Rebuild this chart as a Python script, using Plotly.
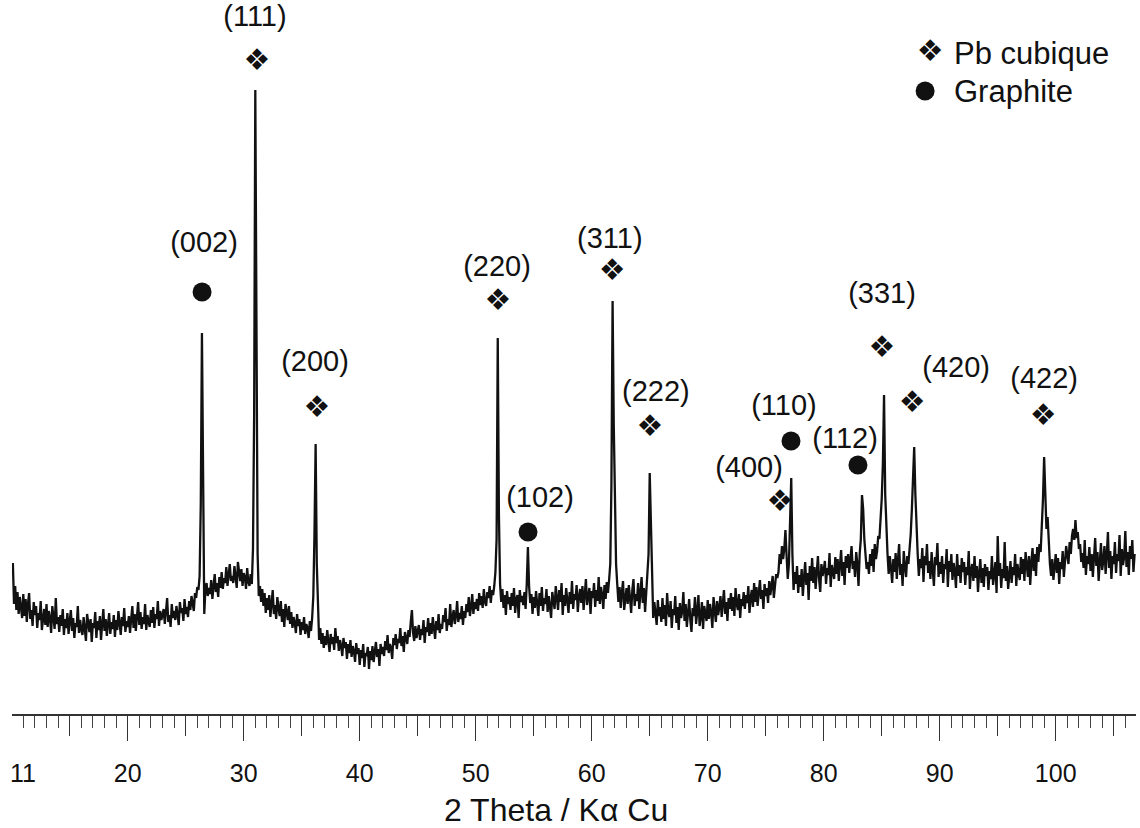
import plotly.graph_objects as go

# ---------------- data ----------------
# Diffractogram intensity (arbitrary units), one row per degree of 2-theta,
# row k holds the points 10.1+k, 10.2+k, ... 11.0+k  (step 0.1 deg)
intensity_rows = [
    [151, 110, 128, 104, 122, 100, 117, 109, 96, 120],   # 10.1-11.0
    [98, 115, 92, 110, 121, 95, 104, 88, 112, 99],
    [108, 86, 101, 94, 113, 84, 99, 105, 89, 110],
    [87, 103, 96, 81, 108, 92, 85, 116, 90, 97],
    [82, 99, 88, 105, 79, 95, 86, 101, 80, 93],
    [104, 83, 96, 76, 91, 87, 108, 81, 94, 84],          # 15.1-16.0
    [79, 97, 85, 73, 100, 88, 82, 95, 72, 91],
    [86, 102, 76, 93, 84, 98, 74, 90, 105, 83],
    [95, 78, 89, 101, 80, 92, 85, 99, 77, 94],
    [84, 103, 91, 79, 97, 88, 106, 82, 93, 87],
    [98, 81, 95, 108, 86, 100, 83, 94, 112, 89],         # 20.1-21.0
    [102, 85, 97, 90, 110, 84, 99, 92, 87, 104],
    [91, 107, 86, 100, 95, 113, 88, 103, 94, 99],
    [105, 90, 101, 116, 92, 99, 87, 110, 96, 103],
    [94, 108, 99, 89, 112, 101, 106, 93, 115, 100],
    [107, 97, 113, 104, 118, 110, 103, 121, 116, 127],   # 25.1-26.0
    [124, 138, 210, 381, 180, 100, 125, 131, 118, 126],
    [120, 134, 115, 128, 140, 122, 131, 117, 137, 126],
    [142, 125, 136, 131, 147, 128, 139, 150, 133, 138],
    [131, 148, 137, 126, 152, 140, 133, 145, 128, 141],
    [137, 125, 146, 132, 128, 140, 130, 165, 300, 624],  # 30.1-31.0
    [330, 160, 118, 128, 112, 125, 108, 121, 101, 116],
    [104, 119, 97, 112, 124, 100, 109, 95, 117, 106],
    [98, 113, 92, 105, 87, 110, 99, 94, 108, 90],
    [102, 86, 97, 91, 81, 100, 88, 95, 79, 92],
    [84, 97, 80, 90, 86, 76, 93, 83, 96, 118],           # 35.1-36.0
    [180, 270, 150, 95, 74, 86, 70, 81, 66, 78],
    [69, 84, 73, 62, 80, 70, 77, 64, 86, 71],
    [78, 63, 74, 68, 58, 76, 66, 72, 55, 70],
    [61, 74, 57, 68, 63, 52, 71, 60, 66, 49],
    [64, 56, 70, 47, 61, 58, 67, 45, 63, 54],            # 40.1-41.0
    [68, 52, 62, 72, 57, 65, 48, 70, 60, 67],
    [58, 73, 64, 79, 61, 70, 66, 55, 76, 69],
    [80, 65, 75, 71, 86, 68, 78, 62, 82, 74],
    [70, 84, 77, 92, 104, 81, 73, 88, 76, 83],
    [89, 74, 85, 79, 94, 71, 87, 82, 96, 78],            # 45.1-46.0
    [91, 80, 97, 86, 75, 93, 84, 100, 81, 90],
    [85, 99, 92, 106, 83, 95, 89, 110, 87, 97],
    [104, 90, 98, 113, 92, 101, 95, 108, 89, 103],
    [96, 110, 102, 117, 98, 107, 120, 100, 112, 105],
    [115, 103, 121, 109, 118, 106, 125, 112, 108, 122],  # 50.1-51.0
    [116, 128, 111, 124, 119, 128, 142, 175, 376, 200],
    [130, 112, 125, 106, 119, 99, 123, 110, 117, 104],
    [121, 108, 126, 101, 115, 119, 96, 124, 112, 118],
    [109, 122, 105, 130, 167, 128, 111, 120, 100, 117],
    [106, 123, 112, 98, 121, 108, 127, 103, 116, 110],   # 55.1-56.0
    [125, 102, 118, 109, 96, 122, 113, 105, 128, 111],
    [104, 124, 112, 131, 99, 119, 108, 126, 115, 101],
    [122, 110, 133, 105, 120, 114, 129, 102, 117, 125],
    [111, 128, 104, 121, 135, 109, 118, 126, 100, 123],
    [116, 131, 107, 124, 113, 137, 110, 127, 119, 105],  # 60.1-61.0
    [129, 115, 132, 121, 134, 150, 230, 413, 290, 200],
    [150, 130, 112, 127, 106, 122, 133, 104, 119, 126],
    [110, 129, 116, 101, 124, 135, 108, 120, 113, 131],
    [105, 122, 137, 111, 126, 102, 119, 132, 160, 241],
    [180, 118, 96, 112, 101, 89, 114, 98, 107, 92],      # 65.1-66.0
    [116, 95, 109, 88, 121, 102, 97, 113, 86, 105],
    [99, 118, 91, 107, 84, 111, 96, 103, 122, 93],
    [110, 87, 101, 115, 94, 82, 106, 98, 117, 90],
    [103, 119, 88, 97, 112, 85, 108, 100, 93, 114],
    [95, 110, 101, 86, 117, 104, 92, 113, 99, 107],      # 70.1-71.0
    [118, 97, 109, 124, 100, 112, 93, 116, 105, 121],
    [103, 117, 98, 126, 110, 104, 120, 96, 115, 108],
    [122, 105, 119, 111, 128, 101, 116, 124, 107, 131],
    [112, 127, 108, 120, 134, 115, 124, 105, 130, 118],
    [126, 111, 133, 119, 128, 138, 116, 130, 140, 136],  # 75.1-76.0
    [142, 160, 150, 168, 155, 165, 184, 158, 135, 150],
    [190, 236, 160, 124, 142, 130, 148, 121, 139, 127],
    [145, 118, 136, 152, 129, 141, 114, 148, 133, 156],
    [131, 147, 125, 140, 158, 135, 122, 150, 138, 144],
    [153, 130, 146, 139, 161, 127, 149, 142, 135, 157],  # 80.1-81.0
    [140, 155, 133, 149, 164, 138, 152, 129, 158, 146],
    [160, 141, 155, 168, 145, 153, 137, 162, 150, 128],
    [160, 175, 219, 205, 175, 158, 145, 152, 140, 160],
    [148, 165, 142, 170, 155, 163, 178, 175, 195, 215],
    [250, 319, 220, 185, 160, 140, 158, 146, 131, 155],  # 85.1-86.0
    [142, 161, 135, 154, 170, 139, 150, 128, 163, 147],
    [137, 158, 150, 165, 180, 205, 240, 267, 220, 180],
    [160, 138, 155, 146, 166, 132, 158, 149, 170, 141],
    [153, 135, 162, 144, 128, 157, 149, 171, 137, 152],
    [140, 158, 131, 150, 145, 165, 127, 153, 142, 160],  # 90.1-91.0
    [134, 151, 143, 126, 160, 138, 149, 131, 156, 142],
    [152, 129, 147, 139, 163, 125, 144, 150, 133, 158],
    [136, 148, 122, 141, 155, 131, 146, 127, 150, 138],
    [147, 124, 143, 135, 158, 129, 140, 152, 121, 178],
    [138, 151, 126, 145, 136, 172, 133, 148, 125, 144],  # 95.1-96.0
    [153, 131, 147, 139, 160, 128, 150, 141, 134, 157],
    [140, 155, 133, 162, 145, 137, 158, 129, 151, 166],
    [143, 160, 138, 167, 152, 170, 162, 185, 215, 257],
    [210, 185, 197, 170, 150, 138, 155, 134, 149, 160],
    [141, 156, 130, 152, 145, 163, 137, 150, 168, 158],  # 100.1-101.0
    [150, 172, 160, 178, 185, 174, 194, 176, 182, 165],
    [170, 152, 161, 146, 174, 139, 158, 150, 167, 143],
    [160, 137, 155, 176, 148, 162, 133, 157, 171, 144],
    [153, 168, 140, 159, 182, 146, 163, 135, 158, 150],
    [172, 141, 160, 153, 179, 138, 165, 149, 157, 183],  # 105.1-106.0
    [147, 162, 139, 168, 155, 174, 142, 160],            # 106.1-106.8
]
first_theta = 10.1
theta_step = 0.1

# Peak labels (hkl), their text positions (2theta, intensity)
pb_labels = ["(111)", "(200)", "(220)", "(311)", "(222)", "(400)", "(331)", "(420)", "(422)"]
pb_label_x = [30.97, 36.15, 51.84, 61.56, 65.53, 73.56, 85.03, 91.41, 99.0]
pb_label_y = [695, 350, 445, 473, 320, 244, 418, 344, 333]
pb_mark_x = [31.15, 36.31, 51.92, 61.77, 65.03, 76.23, 85.03, 87.62, 98.91]
pb_mark_y = [652, 305, 412, 442, 286, 211, 365, 310, 297]

gr_labels = ["(002)", "(102)", "(110)", "(112)"]
gr_label_x = [26.58, 55.54, 76.57, 81.84]
gr_label_y = [469, 214, 306, 273]
gr_mark_x = [26.41, 54.51, 77.18, 82.95]
gr_mark_y = [422, 182, 273, 249]

legend_names = ["Pb cubique", "Graphite"]
legend_x = [89.17, 88.74]
legend_text_x = 91.1
legend_y = [661, 623]

major_ticks = [20, 30, 40, 50, 60, 70, 80, 90, 100]
mid_ticks = [15, 25, 35, 45, 55, 65, 75, 85, 95, 105]
x_title = "2 Theta / K\u03b1 Cu"

# ---------------- build ----------------
theta, intensity = [], []
for k, row in enumerate(intensity_rows):
    for j, v in enumerate(row):
        theta.append(round(first_theta + k + theta_step * j, 1))
        intensity.append(v)

FONT = "Liberation Sans, Arial, Helvetica, sans-serif"
SYM_FONT = "DejaVu Sans"
SYM_SIZE = 30
X_RANGE = [10.026, 106.92]
Y_RANGE = [0, 714]

fig = go.Figure()
fig.add_trace(go.Scatter(x=theta, y=intensity, mode="lines",
                         line=dict(color="#111111", width=2.3),
                         hoverinfo="skip", showlegend=False))

# Pb markers (four-diamond glyph)
fig.add_trace(go.Scatter(x=pb_mark_x, y=pb_mark_y, mode="text", text=["\u2756"] * len(pb_mark_x),
                         textfont=dict(family=SYM_FONT, size=SYM_SIZE, color="#111111"),
                         textposition="middle center", showlegend=False, cliponaxis=False))
# Graphite markers
fig.add_trace(go.Scatter(x=gr_mark_x, y=gr_mark_y, mode="markers",
                         marker=dict(symbol="circle", size=19, color="#111111"),
                         showlegend=False, cliponaxis=False))
# hkl labels
fig.add_trace(go.Scatter(x=pb_label_x + gr_label_x, y=pb_label_y + gr_label_y, mode="text",
                         text=pb_labels + gr_labels,
                         textfont=dict(family=FONT, size=29, color="#111111"),
                         textposition="middle center", showlegend=False, cliponaxis=False))
# legend
fig.add_trace(go.Scatter(x=[legend_x[0]], y=[legend_y[0]], mode="text", text=["\u2756"],
                         textfont=dict(family=SYM_FONT, size=SYM_SIZE, color="#111111"),
                         textposition="middle center", showlegend=False, cliponaxis=False))
fig.add_trace(go.Scatter(x=[legend_x[1]], y=[legend_y[1]], mode="markers",
                         marker=dict(symbol="circle", size=19, color="#111111"),
                         showlegend=False, cliponaxis=False))
for name, yy in zip(legend_names, legend_y):
    fig.add_annotation(x=legend_text_x, y=yy, xref="x", yref="y", text=name, showarrow=False,
                       xanchor="left", yanchor="middle",
                       font=dict(family=FONT, size=31, color="#111111"))

# tick label "11" and axis title
fig.add_annotation(x=11, y=-0.0826, xref="x", yref="paper", text="11", showarrow=False,
                   xanchor="center", yanchor="middle", font=dict(family=FONT, size=25, color="#111111"))
fig.add_annotation(x=56.9, y=-0.1345, xref="x", yref="paper", text=x_title, showarrow=False,
                   xanchor="center", yanchor="middle", font=dict(family=FONT, size=32, color="#111111"))

fig.update_layout(
    width=1140, height=828,
    margin=dict(l=12, r=4, t=0, b=114),
    paper_bgcolor="white", plot_bgcolor="white",
    showlegend=False,
    xaxis=dict(range=X_RANGE, showgrid=False, zeroline=False,
               showline=True, linecolor="#333333", linewidth=1.5,
               tickmode="array", tickvals=major_ticks, ticktext=[str(v) for v in major_ticks],
               ticks="outside", ticklen=25, tickwidth=1.2, tickcolor="#333333",
               ticklabelstandoff=11,
               tickfont=dict(family=FONT, size=25, color="#111111"),
               minor=dict(ticks="outside", dtick=1, tick0=10, ticklen=12, tickwidth=1,
                          tickcolor="#444444", showgrid=False)),
    xaxis2=dict(range=X_RANGE, overlaying="x", anchor="y", side="bottom",
                showgrid=False, zeroline=False, showline=False,
                tickmode="array", tickvals=mid_ticks, showticklabels=False,
                ticks="outside", ticklen=21, tickwidth=1.2, tickcolor="#333333"),
    yaxis=dict(range=Y_RANGE, visible=False, showgrid=False, zeroline=False),
)
# invisible trace to activate xaxis2
fig.add_trace(go.Scatter(x=[X_RANGE[0]], y=[-10], xaxis="x2", mode="markers",
                         marker=dict(opacity=0), hoverinfo="skip", showlegend=False))

fig.write_html("out.html", config={"displayModeBar": False},
               post_script="document.body.style.margin='0px';")
